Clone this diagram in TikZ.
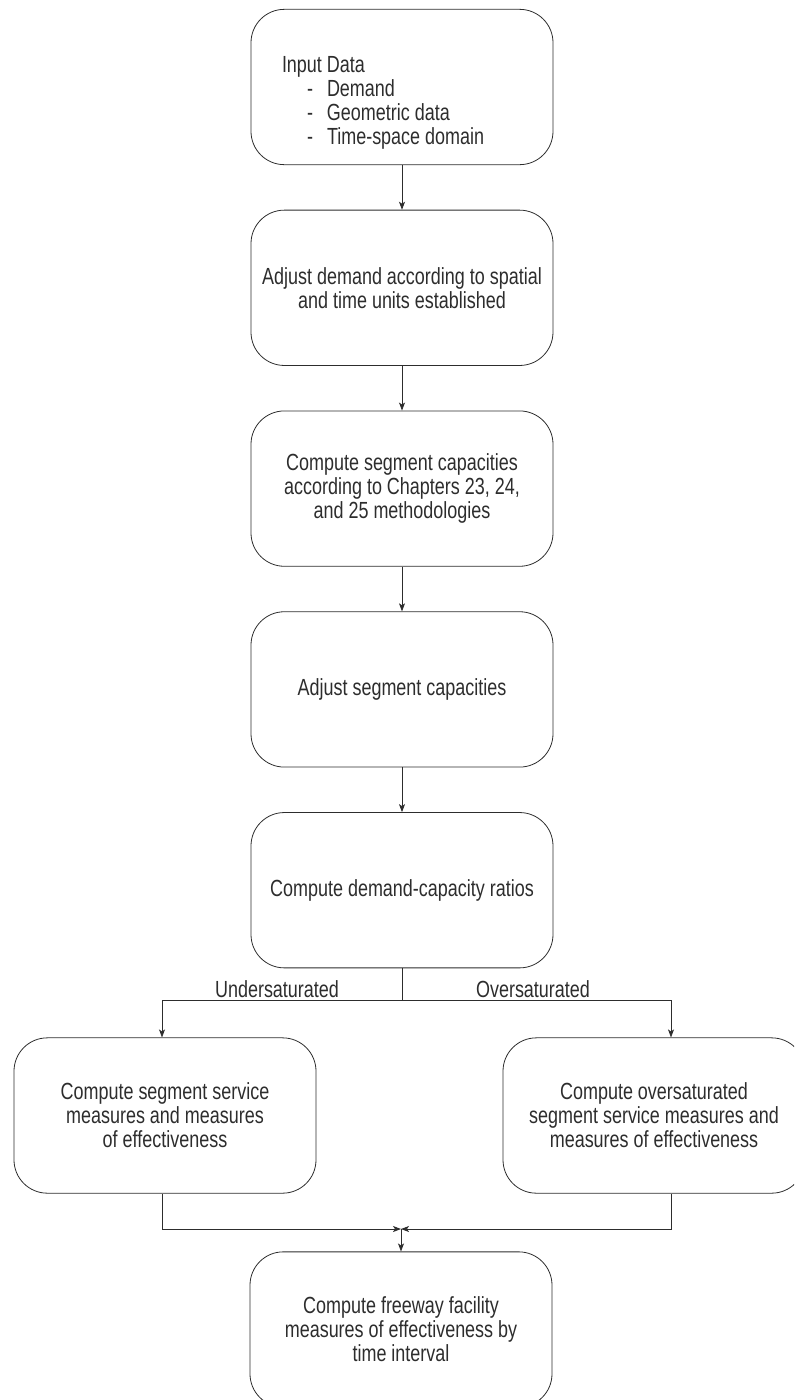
\documentclass[tikz,border=0pt]{standalone}
\usepackage{fontspec}
\setmainfont{Liberation Sans}[FakeStretch=0.77]
\usepackage{tikz}
\definecolor{boxgray}{RGB}{45,45,45}
\usetikzlibrary{arrows.meta, positioning}

\begin{document}
\begin{tikzpicture}[x=0.75pt, y=-0.75pt,
				>={Stealth[length=6pt, width=4.5pt, inset=1.5pt]},   % arrow tips
				box/.style={draw=boxgray, line width=0.6pt, rounded corners=25pt, minimum width=226.5pt, minimum height=116.5pt, align=center, text=boxgray, font=\fontsize{17.5}{18}\selectfont},
				inputbox/.style={box, align=left, text width=180pt, inner xsep=23.25pt},
				lbl/.style={text=boxgray, font=\fontsize{17.5}{18}\selectfont, anchor=base},
				line/.style={draw=boxgray, line width=0.6pt}]
				% page area
				\useasboundingbox (0,0) rectangle (794,1400);
				\clip (0,0) rectangle (794,1400);
				% main column
				\node[inputbox] (in) at (402,87) {\spaceskip=0pt\relax\rule{0pt}{36pt}Input Data\\
					\hspace*{18.75pt}\makebox[15pt][l]{-}Demand\\
					\hspace*{18.75pt}\makebox[15pt][l]{-}Geometric data\\
					\hspace*{18.75pt}\makebox[15pt][l]{-}Time-space domain};
				\node[box, below=33.5pt of in] (adj) {Adjust demand according to spatial\\ and time units established};
				\node[box, below=33.5pt of adj] (cap) {Compute segment capacities\\ according to Chapters 23, 24,\\ and 25 methodologies};
				\node[box, below=33.5pt of cap] (adjcap) {Adjust segment capacities};
				\node[box, below=33.5pt of adjcap] (dcr) {Compute demand-capacity ratios};
				\foreach \a/\b in {in/adj, adj/cap, cap/adjcap, adjcap/dcr}
					\draw[line, ->] (\a) -- (\b);
				% branches
				\node[box] (under) at (165,1115.5) {Compute segment service\\ measures and measures\\ of effectiveness};
				\node[box] (over) at (654,1115.5) {Compute oversaturated\\ segment service measures and\\ measures of effectiveness};
				\node[box] (fac) at (401,1329.5) {Compute freeway facility\\ measures of effectiveness by\\ time interval};
				\coordinate (split) at (dcr.south |- 0,1000);
				\coordinate (merge) at (fac.north |- 0,1229);
				\draw[line] (dcr.south) -- (split);
				\draw[line, ->] (split) -| ([xshift=-2.25pt]under.north);
				\draw[line, ->] (split) -| ([xshift=12.75pt]over.north);
				\node[lbl] (ulbl) at (277,997) {Undersaturated};
				\node[lbl] (olbl) at (533,997) {Oversaturated};
				% merge
				\draw[line, ->] ([xshift=-2.25pt]under.south) |- (merge);
				\draw[line, ->] ([xshift=12.75pt]over.south) |- (merge);
				\draw[line, ->] (merge) -- (fac.north);
			\end{tikzpicture}
\end{document}
